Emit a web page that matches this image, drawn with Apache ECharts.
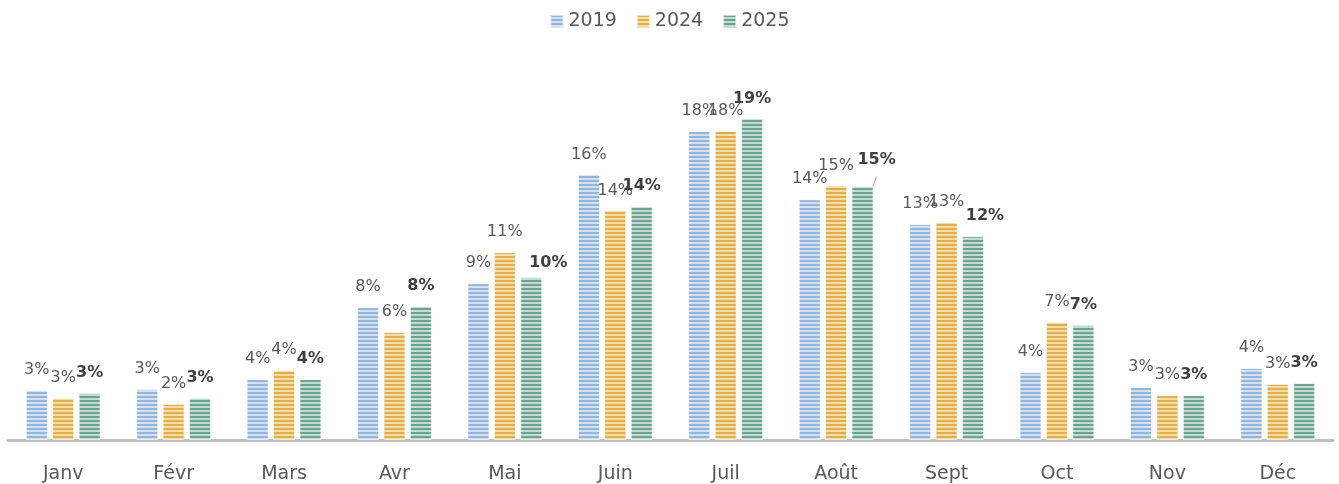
<!DOCTYPE html>
<html>
<head>
<meta charset="utf-8">
<script src="https://cdn.jsdelivr.net/npm/echarts@6/dist/echarts.min.js"></script>
<style>
html, body { margin: 0; padding: 0; background: #fff; }
#chart { width: 1339px; height: 484px; }
</style>
</head>
<body>
<div id="chart"></div>
<script>
// répartition mensuelle (%)
var mois = ['Janv', 'Févr', 'Mars', 'Avr', 'Mai', 'Juin', 'Juil', 'Août', 'Sept', 'Oct', 'Nov', 'Déc'];
var annees = ['2019', '2024', '2025'];
var v2019 = [2.98, 3.04, 3.64, 7.93, 9.36, 15.86, 18.45, 14.37, 12.88, 4.05, 3.16, 4.29];
var v2024 = [2.52, 2.15, 4.17, 6.44, 11.21, 13.71, 18.45, 15.2, 13.0, 7.04, 2.68, 3.34];
var v2025 = [2.80, 2.52, 3.64, 7.99, 9.72, 13.95, 19.2, 15.15, 12.16, 6.86, 2.68, 3.40];

// hachures horizontales comme dans l'original
function stripes(dark, light) {
    var c = document.createElement('canvas');
    c.width = 4;
    c.height = 4;
    var ctx = c.getContext('2d');
    ctx.fillStyle = light;
    ctx.fillRect(0, 0, 4, 4);
    ctx.fillStyle = dark;
    ctx.fillRect(0, 0, 4, 2);
    return { image: c, repeat: 'repeat' };
}

var fills = [
    stripes('#93b4db', '#d2e1f1'),
    stripes('#deae4f', '#f4dca2'),
    stripes('#6ba290', '#c3dcd3')
];
var solid = ['#a9c4e4', '#e6c271', '#8dbaab'];
var police = 'DejaVu Sans';

var chart = echarts.init(document.getElementById('chart'));

function makeSeries(name, data, idx) {
    var bold = idx === 2;
    var items = data.map(function (v, i) {
        var it = { value: v };
        if (bold && i === 4) {
            it.label = { offset: [17, 6] };
        }
        if (bold && i === 7) {
            it.label = { offset: [14, -6] };
            it.labelLine = { show: true, lineStyle: { color: '#a6a6a6', width: 1 } };
        }
        if (bold && i === 8) {
            it.label = { offset: [12, 0] };
        }
        return it;
    });
    return {
        name: name,
        type: 'bar',
        data: items,
        barWidth: 22,
        barGap: '20%',
        itemStyle: {
            color: fills[idx],
            borderColor: 'rgba(255,255,255,0.6)',
            borderWidth: 1
        },
        label: {
            show: true,
            position: 'top',
            distance: 12,
            fontFamily: police,
            fontSize: 16,
            fontWeight: bold ? 'bold' : 'normal',
            color: bold ? '#404040' : '#595959',
            formatter: function (p) { return Math.round(p.value) + '%'; }
        },
        emphasis: { disabled: true }
    };
}

chart.setOption({
    animation: false,
    color: solid,
    legend: {
        top: 7,
        left: 'center',
        itemWidth: 13,
        itemHeight: 13,
        itemGap: 19,
        icon: 'rect',
        textStyle: { fontFamily: police, fontSize: 19, color: '#595959' },
        data: annees.map(function (a, i) {
            return { name: a, itemStyle: { color: fills[i] } };
        })
    },
    grid: { left: 8, right: 6, top: 105, bottom: 44 },
    xAxis: {
        type: 'category',
        data: mois,
        axisLine: { lineStyle: { color: '#bfbfbf', width: 3 } },
        axisTick: { show: false },
        axisLabel: { fontFamily: police, fontSize: 19, color: '#595959', margin: 25 }
    },
    yAxis: {
        type: 'value',
        min: 0,
        max: 20,
        show: false
    },
    series: [
        makeSeries(annees[0], v2019, 0),
        makeSeries(annees[1], v2024, 1),
        makeSeries(annees[2], v2025, 2)
    ]
});
</script>
</body>
</html>
